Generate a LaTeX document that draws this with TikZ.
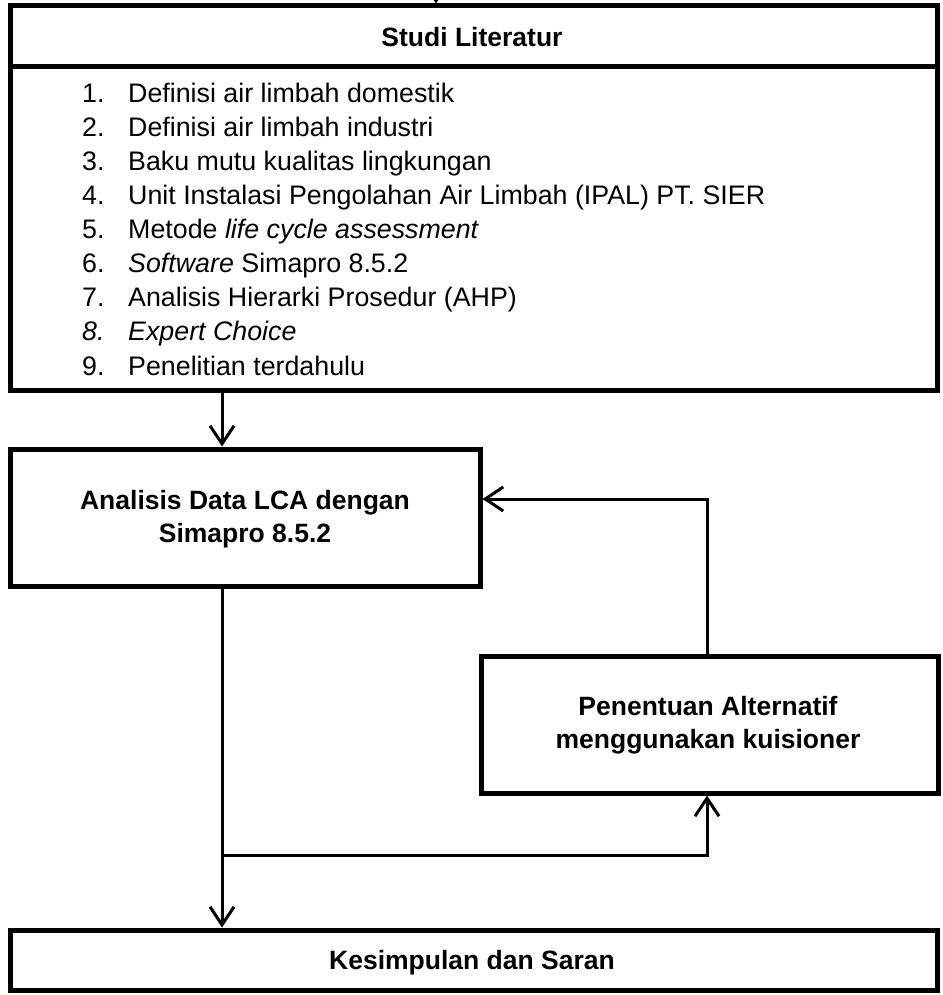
\documentclass[tikz,border=0pt]{standalone}
\usepackage{fontspec}
\setmainfont{Liberation Sans}
\usetikzlibrary{arrows.meta}

\tikzset{
  frame/.style={draw=black, line width=5pt, rectangle, inner sep=0pt},
  boxlabel/.style={font=\fontsize{26.5}{33}\selectfont\bfseries, align=center, inner sep=0pt},
  conn/.style={draw=black, line width=3pt},
  arr/.style={conn, -{Straight Barb[length=18pt,width=24pt]}}
}

\begin{document}
\begin{tikzpicture}[x=1pt,y=-1pt]
\useasboundingbox (0,0) rectangle (942,995);

% literature block: header and list
\node[frame, minimum width=927pt, minimum height=61pt] (head) at (473.5,36.5) {};
\node[boxlabel] (headtext) at (472,37) {Studi Literatur};
\node[frame, minimum width=927pt, minimum height=323pt] (list) at (473.5,228.5) {};
\node[anchor=base west, inner sep=0pt, font=\fontsize{26.8}{34}\selectfont] (items) at (82,103)
{\begin{tabular}[t]{@{}p{46pt}@{}l@{}}
1. & Definisi air limbah domestik\\
2. & Definisi air limbah industri\\
3. & Baku mutu kualitas lingkungan\\
4. & Unit Instalasi Pengolahan Air Limbah (IPAL) PT. SIER\\
5. & Metode \textit{life cycle assessment}\\
6. & \textit{Software} Simapro 8.5.2\\
7. & Analisis Hierarki Prosedur (AHP)\\
\textit{8.} & \textit{Expert Choice}\\
9. & Penelitian terdahulu
\end{tabular}};

% process boxes
\node[frame, minimum width=470pt, minimum height=137pt] (lca) at (245,517.5) {};
\node[boxlabel] (lcatext) at (245,519) {Analisis Data LCA dengan\\Simapro 8.5.2};
\node[frame, minimum width=457pt, minimum height=137pt] (alt) at (709.5,724.5) {};
\node[boxlabel] (alttext) at (708,725) {Penentuan Alternatif\\menggunakan kuisioner};
\node[frame, minimum width=927pt, minimum height=60pt] (kes) at (473.5,960) {};
\node[boxlabel] (kestext) at (472,963) {Kesimpulan dan Saran};

% connector guide points
\coordinate (incoming) at (436,-40);
\coordinate (mainx) at (222,0);
\coordinate (fbx) at (707,499);
\coordinate (branch) at (222,855);

% connectors
\draw[arr] (incoming) -- (incoming |- head.north);
\draw[arr] (mainx |- list.south) -- (mainx |- lca.north);
\draw[arr] (mainx |- lca.south) -- (mainx |- kes.north);
\draw[arr] (fbx |- alt.north) -- (fbx) -- (lca.east |- fbx);
\draw[arr] (branch) -- (branch -| fbx) -- (fbx |- alt.south);
\end{tikzpicture}
\end{document}
